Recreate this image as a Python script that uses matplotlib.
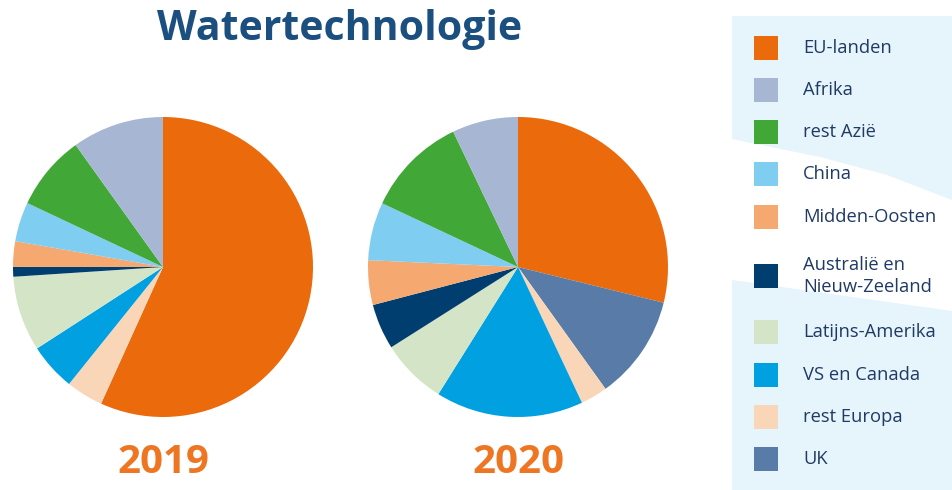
import matplotlib
matplotlib.use("Agg")
import matplotlib.pyplot as plt
from matplotlib.patches import Rectangle, Polygon

plt.rcParams['font.family'] = ['Open Sans', 'DejaVu Sans']

## regions, in legend order
regions = ["EU-landen", "Afrika", "rest Azië", "China", "Midden-Oosten",
           "Australië en\nNieuw-Zeeland", "Latijns-Amerika", "VS en Canada",
           "rest Europa", "UK"]
colors = ["#EB6A0C", "#A6B6D3", "#41A737", "#80CDF2", "#F5A86F",
          "#003E6F", "#D4E5C7", "#00A0E1", "#FAD6B9", "#587CA7"]

## shares (%)
share_2019 = [56.8, 9.9, 8.1, 4.25, 2.75, 1.05, 8.1, 5.1, 4.0, 0.0]
share_2020 = [28.8, 7.1, 10.9, 6.25, 4.8, 4.9, 7.1, 15.9, 2.9, 11.25]
years = ["2019", "2020"]

W, H = 952, 490
fig = plt.figure(figsize=(W / 100, H / 100), dpi=100)

# order slices clockwise from top: EU first, then the rest in reverse
order = [0] + list(range(len(regions) - 1, 0, -1))

centers = [163, 518]
radius = 150
cy = 267
for cx, shares, year in zip(centers, [share_2019, share_2020], years):
    ax = fig.add_axes([(cx - radius) / W, (H - cy - radius) / H,
                       2 * radius / W, 2 * radius / H])
    vals = [shares[i] for i in order]
    cols = [colors[i] for i in order]
    ax.pie(vals, colors=cols, startangle=90, counterclock=False,
           wedgeprops=dict(linewidth=0))
    ax.set_xlim(-1, 1)
    ax.set_ylim(-1, 1)
    ax.set_aspect('equal')
    fig.text(cx / W, 1 - 462 / H, year, ha='center', va='center',
             fontsize=29, fontweight='bold', color='#EE7623')

fig.text(340 / W, 1 - 30 / H, "Watertechnologie", ha='center', va='center',
         fontsize=29.5, fontweight='bold', color='#1B4F80')

## legend panel, drawn in pixel coordinates
lax = fig.add_axes([0, 0, 1, 1], zorder=-1)
lax.set_xlim(0, W)
lax.set_ylim(H, 0)
lax.axis('off')
lax.add_patch(Rectangle((732, 16), W - 732, H - 16, color='#E6F4FB', lw=0))
band = [(732, 139), (820, 157), (887, 175), (952, 200), (952, 311), (732, 280)]
lax.add_patch(Polygon(band, closed=True, color='white', lw=0))

row_y = [48, 90, 132, 174, 217, 276, 332, 375, 417, 459]
for name, col, y in zip(regions, colors, row_y):
    lax.add_patch(Rectangle((754, y - 12), 24, 24, color=col, lw=0))
    lax.text(803, y, name, ha='left', va='center', fontsize=13.2,
             color='#1F3A64', linespacing=1.35)

fig.savefig("out.png", dpi=100)
